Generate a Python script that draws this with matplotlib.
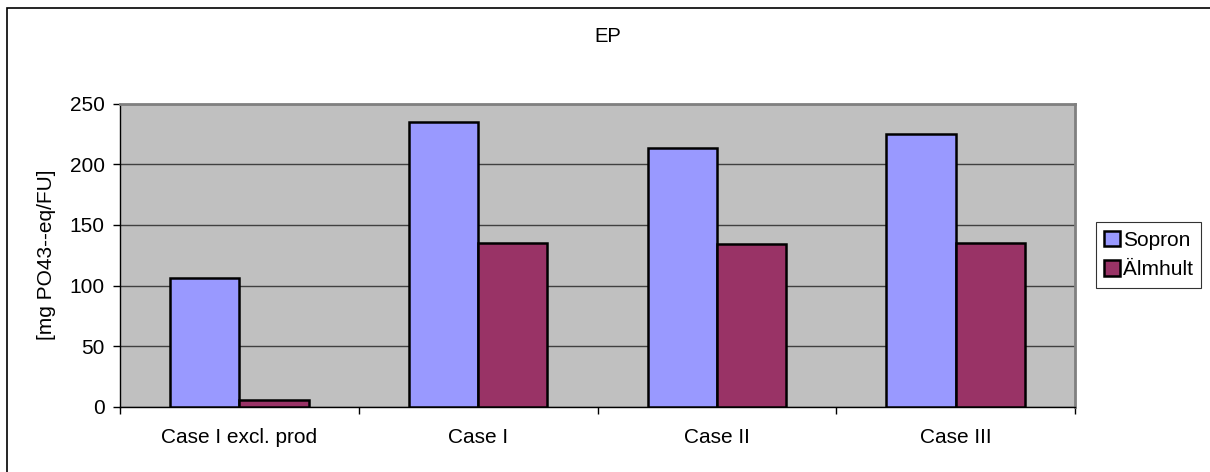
import matplotlib.pyplot as plt
from matplotlib.patches import Rectangle
import numpy as np

plt.rcParams['font.family'] = ['Liberation Sans', 'DejaVu Sans']

# EP results per case
cases = ["Case I excl. prod", "Case I", "Case II", "Case III"]
sopron = [106, 235, 213.5, 225]
almhult = [6, 135, 134, 135]

fig = plt.figure(figsize=(12.1, 4.72), dpi=100)

# outer chart frame (only left/top fall inside the image)
fig.patches.append(Rectangle((7 / 1210, -0.1), 1.2, 1 - 8 / 472 + 0.1,
                             transform=fig.transFigure, fill=False,
                             edgecolor='black', lw=1.2, zorder=0))

ax = fig.add_axes([120 / 1210, 1 - 407 / 472, (1075 - 120) / 1210, (407 - 103.5) / 472])
ax.set_facecolor('#c0c0c0')

x = np.arange(len(cases))
w = 0.29
ax.bar(x - w / 2, sopron, w, color='#9999ff', edgecolor='black', lw=1.8, label='Sopron', zorder=3)
ax.bar(x + w / 2, almhult, w, color='#993366', edgecolor='black', lw=1.8, label='Älmhult', zorder=3)

ax.set_xlim(-0.5, len(cases) - 0.5)
ax.set_ylim(0, 250)
ax.set_yticks(range(0, 251, 50))
ax.yaxis.grid(True, color='#404040', lw=1)
ax.set_axisbelow(True)

ax.set_xticks(x)
ax.set_xticklabels(cases, fontsize=15)
ax.set_xticks(np.arange(-0.5, len(cases)), minor=True)
ax.tick_params(axis='x', which='major', length=0, pad=15)
ax.tick_params(axis='x', which='minor', length=5, width=1, direction='out')
ax.tick_params(axis='y', length=5, width=1, direction='out', labelsize=15, pad=6)

for s in ['top', 'right']:
    ax.spines[s].set_color('#808080')
    ax.spines[s].set_linewidth(2)
for s in ['left', 'bottom']:
    ax.spines[s].set_color('black')
    ax.spines[s].set_linewidth(1)

fig.text(47 / 1210, 1 - 255 / 472, '[mg PO43--eq/FU]', rotation=90,
         ha='center', va='center', fontsize=15)
fig.text(608 / 1210, 1 - 37 / 472, 'EP', ha='center', va='center', fontsize=14.5)

leg = ax.legend(loc='center left', bbox_to_anchor=(1096 / 1210, 1 - 255 / 472),
                bbox_transform=fig.transFigure, fontsize=15, frameon=True,
                fancybox=False, handlelength=0.75, handleheight=0.75,
                handletextpad=0.15, borderpad=0.4, labelspacing=0.5,
                borderaxespad=0)
leg.get_frame().set_edgecolor('black')
leg.get_frame().set_linewidth(0.8)

fig.savefig('out.png', dpi=100)
